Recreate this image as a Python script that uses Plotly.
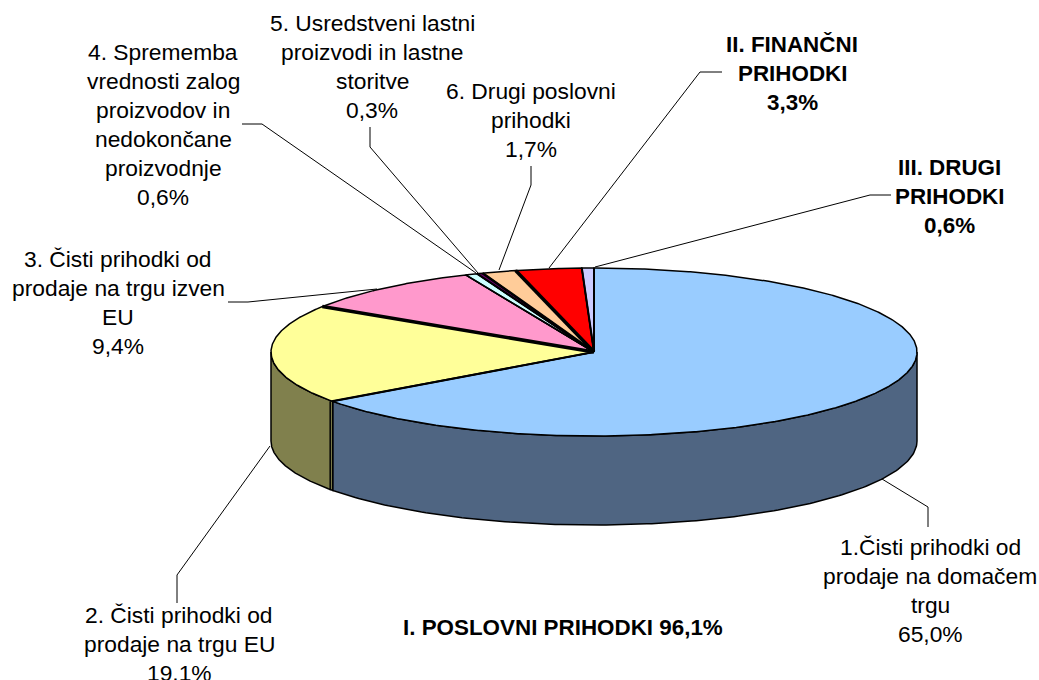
import numpy as np
import plotly.graph_objects as go

# --- data ---
slice_names = [
    "1.Čisti prihodki od prodaje na domačem trgu",
    "2. Čisti prihodki od prodaje na trgu EU",
    "3. Čisti prihodki od prodaje na trgu izven EU",
    "4. Sprememba vrednosti zalog proizvodov in nedokončane proizvodnje",
    "5. Usredstveni lastni proizvodi in lastne storitve",
    "6. Drugi poslovni prihodki",
    "II. FINANČNI PRIHODKI",
    "III. DRUGI PRIHODKI",
]
slice_values = [65.0, 19.1, 9.4, 0.6, 0.3, 1.7, 3.3, 0.6]
slice_colors = ["#99CCFF", "#FFFF99", "#FF99CC", "#CCFFFF", "#660066", "#FFCC99", "#FF0000", "#CCCCFF"]
wall_colors = ["#4F6582", "#80804D", "#804D66", "#668080", "#330033", "#80664D", "#800000", "#666680"]
# slice boundaries (index = slice after the edge) drawn with a heavier line
heavy_edges = {0: 2.0, 1: 2.0, 2: 3.5, 3: 1.5, 4: 2.0, 5: 2.5, 6: 3.5, 7: 2.0}

# label blocks: (centre x px, first-line y px, bold, lines)
labels = [
    (930, 547, False, ["1.Čisti prihodki od", "prodaje na domačem", "trgu", "65,0%"]),
    (179, 615, False, ["2. Čisti prihodki od", "prodaje na trgu EU", "19,1%"]),
    (118, 259, False, ["3. Čisti prihodki od", "prodaje na trgu izven", "EU", "9,4%"]),
    (163, 52, False, ["4. Sprememba", "vrednosti zalog", "proizvodov in", "nedokončane", "proizvodnje", "0,6%"]),
    (372, 23, False, ["5. Usredstveni lastni", "proizvodi in lastne", "storitve", "0,3%"]),
    (531, 91, False, ["6. Drugi poslovni", "prihodki", "1,7%"]),
    (792, 44, True, ["II. FINANČNI", "PRIHODKI", "3,3%"]),
    (949, 167, True, ["III. DRUGI", "PRIHODKI", "0,6%"]),
    (563, 627, True, ["I. POSLOVNI PRIHODKI 96,1%"]),
]
# leader lines in layout pixels
leaders = [
    [(928, 527), (928, 507), (882, 479)],
    [(177, 603), (177, 575), (270, 446)],
    [(228, 302), (248, 302), (377, 289)],
    [(242, 124), (262, 124), (476, 273)],
    [(370, 127), (370, 147), (478, 273)],
    [(531, 166), (531, 185), (499, 270)],
    [(722, 72), (700, 72), (549, 268)],
    [(891, 195), (870, 195), (595, 267)],
]

# --- layout of the tilted disc ---
CX, CY, RX, RY, DEPTH = 594, 352, 323, 84, 89
FONT = "Liberation Sans, Arial, sans-serif"
FONT_SIZE = 22.8
BOLD_SIZE = 22.4
LINE_H = 29


def ex(t):
    return CX + RX * np.sin(np.radians(t))


def ey(t):
    return CY - RY * np.cos(np.radians(t))


shares = np.array(slice_values) / sum(slice_values) * 360
ends = np.cumsum(shares)
starts = ends - shares

fig = go.Figure()

# side walls (front half only)
for name, a, b, c in zip(slice_names, starts, ends, wall_colors):
    lo, hi = max(a, 90), min(b, 270)
    if hi <= lo:
        continue
    t = np.linspace(lo, hi, 160)
    xs = np.r_[ex(t), ex(t)[::-1], ex(t)[0]]
    ys = np.r_[ey(t), ey(t)[::-1] + DEPTH, ey(t)[0]]
    fig.add_trace(go.Scatter(x=xs, y=ys, mode="lines", fill="toself", fillcolor=c,
                             line=dict(color="black", width=1.5), name=name, hoverinfo="name"))

# double separator at the wall boundary between blue and yellow
sep_x = ex(ends[0])
sep_y = ey(ends[0])
fig.add_trace(go.Scatter(x=[sep_x - 2.5, sep_x - 2.5], y=[sep_y, sep_y + DEPTH], mode="lines",
                         line=dict(color="black", width=1.5), hoverinfo="skip"))

# top faces
for name, a, b, c in zip(slice_names, starts, ends, slice_colors):
    t = np.linspace(a, b, max(8, int(b - a) * 3))
    xs = np.r_[CX, ex(t), CX]
    ys = np.r_[CY, ey(t), CY]
    fig.add_trace(go.Scatter(x=xs, y=ys, mode="lines", fill="toself", fillcolor=c,
                             line=dict(color="black", width=1.5), name=name, hoverinfo="name"))

# heavier radial edges
for i, w in heavy_edges.items():
    fig.add_trace(go.Scatter(x=[CX, ex(starts[i])], y=[CY, ey(starts[i])], mode="lines",
                             line=dict(color="black", width=w), hoverinfo="skip"))

# leaders
for pts in leaders:
    fig.add_trace(go.Scatter(x=[p[0] for p in pts], y=[p[1] for p in pts], mode="lines",
                             line=dict(color="black", width=1), hoverinfo="skip"))

# labels
for cx, y0, bold, lines in labels:
    for i, ln in enumerate(lines):
        fig.add_annotation(x=cx, y=y0 + i * LINE_H, text=f"<b>{ln}</b>" if bold else ln,
                           showarrow=False, xanchor="center", yanchor="middle",
                           font=dict(family=FONT, size=BOLD_SIZE if bold else FONT_SIZE, color="black"))

fig.update_layout(
    width=1039, height=680, margin=dict(l=0, r=0, t=0, b=0),
    paper_bgcolor="white", plot_bgcolor="white", showlegend=False,
    xaxis=dict(range=[0, 1039], visible=False, fixedrange=True),
    yaxis=dict(range=[680, 0], visible=False, fixedrange=True),
)
fig.write_html("out.html", config={"displayModeBar": False},
               post_script="document.body.style.margin='0';document.body.style.overflow='hidden';")
